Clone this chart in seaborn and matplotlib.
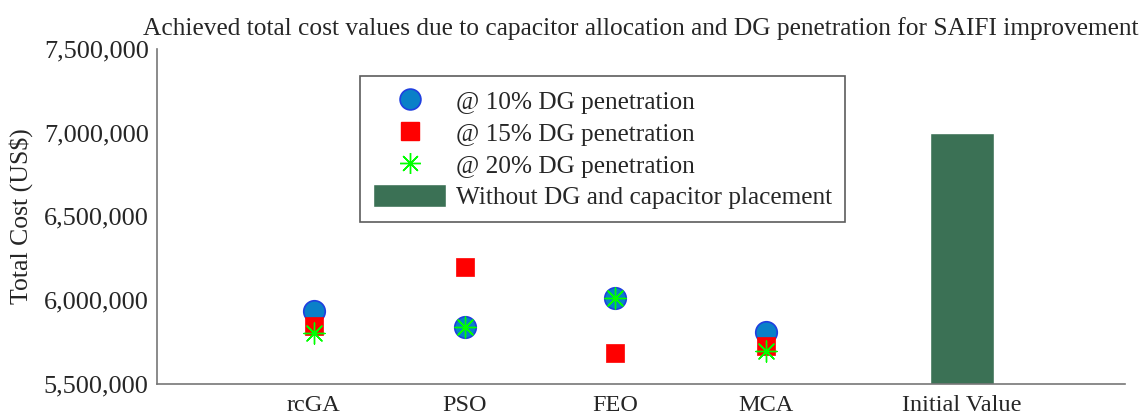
import numpy as np
import pandas as pd
import matplotlib
matplotlib.use("Agg")
import matplotlib.pyplot as plt
import seaborn as sns
from matplotlib.lines import Line2D
from matplotlib.patches import Patch
from matplotlib.ticker import FuncFormatter

# Data
algorithms = ["rcGA", "PSO", "FEO", "MCA"]
dg10 = [5937000, 5841000, 6015000, 5811000]
dg15 = [5847000, 6195000, 5686000, 5727000]
dg20 = [5805000, 5841000, 6015000, 5697000]
initial_label = "Initial Value"
initial_value = 7000000

sns.set_style("white")
plt.rcParams["font.family"] = ["Liberation Serif", "DejaVu Serif"]

fig = plt.figure(figsize=(11.42, 4.15), dpi=100)
ax = fig.add_axes([0.1375, 0.075, 0.8475, 0.807])

xpos = np.arange(1, len(algorithms) + 1)
bar_x = 5.3

# initial value bar
ax.bar([bar_x], [initial_value], width=0.42, color="#3b7155", zorder=2)

df = pd.DataFrame({"x": xpos, "dg10": dg10, "dg15": dg15, "dg20": dg20})
sns.scatterplot(data=df, x="x", y="dg10", ax=ax, marker="o", s=240,
                color="#0a80c8", edgecolor="#1f3fe0", linewidth=1.2, zorder=3)
sns.scatterplot(data=df, x="x", y="dg15", ax=ax, marker="s", s=175,
                color="#ff0000", edgecolor="#ff0000", linewidth=0.5, zorder=4)
sns.scatterplot(data=df, x="x", y="dg20", ax=ax, marker=(8, 2, 0), s=230,
                color="#00ff00", edgecolor="#00ff00", linewidth=1.0, zorder=5)

ax.set_xlim(-0.04, 6.38)
ax.set_ylim(5500000, 7500000)
ax.set_xticks(list(xpos) + [bar_x])
ax.set_xticklabels(algorithms + [initial_label])
ax.set_yticks(np.arange(5500000, 7500001, 500000))
ax.yaxis.set_major_formatter(FuncFormatter(lambda v, p: f"{int(v):,}"))
ax.set_xlabel("")
ax.set_ylabel("Total Cost (US$)", fontsize=18.5, labelpad=8)
ax.set_title("Achieved total cost values due to capacitor allocation and DG penetration for SAIFI improvement",
             fontsize=18.3, pad=10)

ax.tick_params(axis="x", direction="in", length=6, labelsize=17.5, pad=8, color="#555555")
ax.tick_params(axis="y", direction="out", length=4, labelsize=18.9, pad=2, color="#555555")
sns.despine(ax=ax)
for s in ["left", "bottom"]:
    ax.spines[s].set_color("#777777")
    ax.spines[s].set_linewidth(1.2)

handles = [
    Line2D([], [], linestyle="none", marker="o", markersize=15,
           markerfacecolor="#0a80c8", markeredgecolor="#1f3fe0", markeredgewidth=1.2),
    Line2D([], [], linestyle="none", marker="s", markersize=13,
           markerfacecolor="#ff0000", markeredgecolor="#ff0000"),
    Line2D([], [], linestyle="none", marker=(8, 2, 0), markersize=15,
           markerfacecolor="#00ff00", markeredgecolor="#00ff00", markeredgewidth=1.0),
    Patch(facecolor="#3b7155"),
]
labels = ["@ 10% DG penetration", "@ 15% DG penetration", "@ 20% DG penetration",
          "Without DG and capacitor placement"]
leg = ax.legend(handles, labels, loc="upper left", bbox_to_anchor=(0.21, 0.918),
                borderaxespad=0, fontsize=18.2, frameon=True, fancybox=False,
                handlelength=2.9, handleheight=1.0, labelspacing=0.27,
                borderpad=0.5, handletextpad=0.4)
leg.get_frame().set_edgecolor("#333333")
leg.get_frame().set_linewidth(1.2)

fig.savefig("out.png", dpi=100)
